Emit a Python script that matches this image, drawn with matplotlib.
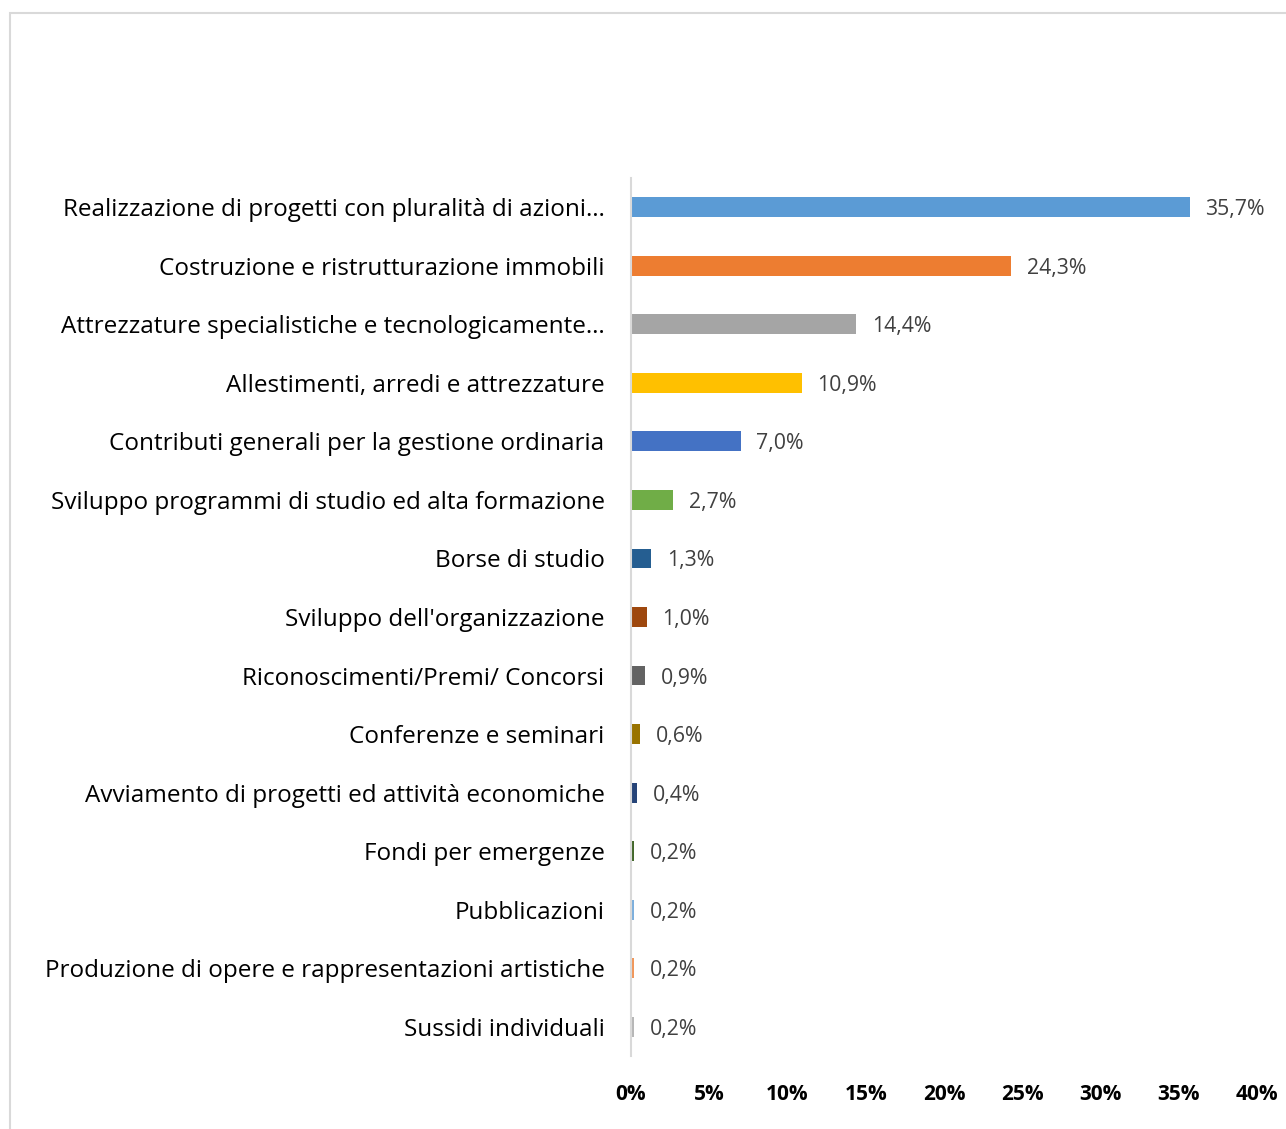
import matplotlib.pyplot as plt
from matplotlib.patches import Rectangle
from matplotlib.ticker import FuncFormatter

categorie = [
    "Realizzazione di progetti con pluralità di azioni…",
    "Costruzione e ristrutturazione immobili",
    "Attrezzature specialistiche e tecnologicamente…",
    "Allestimenti, arredi e attrezzature",
    "Contributi generali per la gestione ordinaria",
    "Sviluppo programmi di studio ed alta formazione",
    "Borse di studio",
    "Sviluppo dell'organizzazione",
    "Riconoscimenti/Premi/ Concorsi",
    "Conferenze e seminari",
    "Avviamento di progetti ed attività economiche",
    "Fondi per emergenze",
    "Pubblicazioni",
    "Produzione di opere e rappresentazioni artistiche",
    "Sussidi individuali",
]
valori = [35.7, 24.3, 14.4, 10.9, 7.0, 2.7, 1.3, 1.0, 0.9, 0.6, 0.4, 0.2, 0.2, 0.2, 0.2]
colori = ["#5B9BD5", "#ED7D31", "#A5A5A5", "#FFC000", "#4472C4", "#70AD47",
          "#255E91", "#9E480E", "#636363", "#997300", "#264478", "#43682B",
          "#7CAFDD", "#F1975A", "#B7B7B7"]
tick_valori = [0, 5, 10, 15, 20, 25, 30, 35, 40]

plt.rcParams['font.family'] = ['Open Sans', 'DejaVu Sans']

fig = plt.figure(figsize=(12.86, 11.29), dpi=100)
ax = fig.add_axes([631 / 1286, 1 - 1056 / 1129, 626 / 1286, 878 / 1129])

# bordo del grafico (tagliato a destra e in basso)
fig.patches.append(Rectangle((10 / 1286, -0.05), 1.2, 1 - 13 / 1129 + 0.05,
                             transform=fig.transFigure, fill=False,
                             edgecolor="#D9D9D9", linewidth=1.5))

pos = list(range(len(categorie)))
ax.barh(pos, valori, height=0.34, color=colori)
for p, v in zip(pos, valori):
    ax.text(v + 1.0, p, f"{v:.1f}%".replace(".", ","), va="center_baseline", ha="left",
            fontsize=15.3, color="#404040")

ax.set_yticks(pos)
ax.set_yticklabels(categorie, fontsize=17.5, color="black")
ax.set_ylim(len(categorie) - 0.5, -0.5)
ax.set_xlim(0, 40)
ax.set_xticks(tick_valori)
ax.xaxis.set_major_formatter(FuncFormatter(lambda x, _: f"{x:.0f}%"))
for lab in ax.get_xticklabels():
    lab.set_fontweight("bold")
    lab.set_fontsize(15)
ax.tick_params(axis="y", length=0, pad=19)
ax.tick_params(axis="x", length=0, pad=20)

for s in ["top", "right", "bottom"]:
    ax.spines[s].set_visible(False)
ax.spines["left"].set_color("#D9D9D9")
ax.spines["left"].set_linewidth(1.5)

plt.savefig("out.png", dpi=100)
